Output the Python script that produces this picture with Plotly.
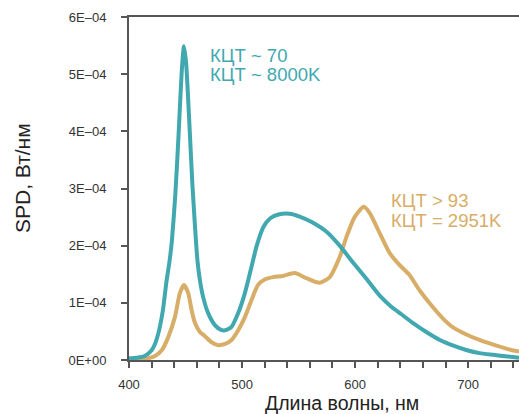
import plotly.graph_objects as go

# Teal: CRI ~ 70, CCT ~ 8000K  (values in 1E-04 W/nm)
wl_cool = [400, 407, 414, 420, 423, 426, 430, 433, 436, 438, 441, 444, 446.5, 448.6, 450.5, 453, 456, 458.5, 460.5, 462.7, 465.6, 470, 476, 481, 485, 490.7, 496.6, 502.5, 508, 513, 519, 525, 533, 542, 551, 562, 575, 586, 598, 610, 622, 631, 641, 651, 663, 675, 687, 699, 710, 722, 735, 745]
spd_cool = [0.03, 0.04, 0.07, 0.17, 0.28, 0.47, 0.87, 1.35, 1.75, 2.1, 2.9, 4.0, 5.0, 5.49, 5.2, 4.3, 3.1, 2.3, 1.75, 1.4, 1.1, 0.82, 0.61, 0.53, 0.52, 0.58, 0.82, 1.17, 1.6, 2.0, 2.33, 2.48, 2.55, 2.56, 2.51, 2.41, 2.24, 2.01, 1.71, 1.42, 1.12, 0.95, 0.8, 0.65, 0.49, 0.35, 0.25, 0.17, 0.12, 0.09, 0.06, 0.04]

# Tan: CRI > 93, CCT = 2951K  (values in 1E-04 W/nm)
wl_warm = [400, 414, 423, 429, 434.7, 440.6, 445, 448.6, 452.4, 455.4, 458.3, 462.7, 467, 473, 479, 485, 490.7, 496.6, 502.5, 508.4, 514, 520, 527.5, 536, 546.6, 557, 568.7, 577.6, 586.4, 592.3, 599.6, 607.6, 613, 621.7, 630.6, 639.4, 648, 657, 668.5, 678, 686, 698, 710, 725, 739, 745]
spd_warm = [0.0, 0.02, 0.07, 0.17, 0.4, 0.75, 1.17, 1.31, 1.17, 0.87, 0.65, 0.49, 0.42, 0.31, 0.26, 0.28, 0.35, 0.52, 0.75, 1.05, 1.31, 1.41, 1.45, 1.47, 1.52, 1.43, 1.35, 1.45, 1.8, 2.15, 2.5, 2.68, 2.57, 2.22, 1.87, 1.66, 1.49, 1.22, 0.93, 0.72, 0.58, 0.45, 0.35, 0.25, 0.17, 0.15]

y_tickvals = [0, 1e-4, 2e-4, 3e-4, 4e-4, 5e-4, 6e-4]
y_ticktext = ["0E+00", "1E\u201304", "2E\u201304", "3E\u201304", "4E\u201304", "5E\u201304", "6E\u201304"]
x_minor = [400, 420, 440, 460, 480, 500, 520, 540, 560, 580, 600, 620, 640, 660, 680, 700, 720, 740]
x_labeled = [400, 500, 600, 700]

labels_cool = ["КЦТ ~ 70", "КЦТ ~ 8000K"]
labels_warm = ["КЦТ > 93", "КЦТ = 2951K"]

TEAL = "#41a8b0"
TAN = "#d7ad67"

fig = go.Figure()
fig.add_trace(go.Scatter(x=wl_warm, y=[v * 1e-4 for v in spd_warm], mode="lines",
                         line=dict(color=TAN, width=4, shape="spline", smoothing=0.6),
                         showlegend=False, hoverinfo="skip"))
fig.add_trace(go.Scatter(x=wl_cool, y=[v * 1e-4 for v in spd_cool], mode="lines",
                         line=dict(color=TEAL, width=4, shape="spline", smoothing=0.6),
                         showlegend=False, hoverinfo="skip"))

font_family = "Liberation Sans, Arial, sans-serif"

fig.update_layout(
    width=519, height=414,
    margin=dict(l=129, r=0, t=17, b=54),
    paper_bgcolor="white", plot_bgcolor="white",
    font=dict(family=font_family, color="#333333"),
    xaxis=dict(range=[400, 745], showgrid=False, zeroline=False,
               showline=True, linecolor="#555555", linewidth=2, mirror=True,
               ticks="outside", ticklen=6, tickwidth=1.5, tickcolor="#555555",
               tickvals=x_minor,
               ticktext=[str(v) if v in x_labeled else "" for v in x_minor],
               tickfont=dict(size=13, color="#333333"), ticklabelstandoff=5),
    yaxis=dict(range=[0, 6e-4], showgrid=False, zeroline=False,
               showline=True, linecolor="#555555", linewidth=2,
               ticks="outside", ticklen=6, tickwidth=1.5, tickcolor="#555555",
               tickvals=y_tickvals, ticktext=y_ticktext,
               tickfont=dict(size=13, color="#333333"), ticklabelstandoff=12),
)

fig.add_annotation(xref="paper", yref="paper", x=(342 - 129) / 390, y=(360 - 403) / 343,
                   text="Длина волны, нм", showarrow=False, xanchor="center", yanchor="middle",
                   font=dict(size=19.5, color="#222222"))
fig.add_annotation(xref="paper", yref="paper", x=(22 - 129) / 390, y=(360 - 178) / 343,
                   text="SPD, Вт/нм", showarrow=False, textangle=-90, xanchor="center", yanchor="middle",
                   font=dict(size=21, color="#222222"))

fig.add_annotation(x=470, y=(360 - 55) / 343 * 6e-4, xref="x", yref="y", text=labels_cool[0],
                   showarrow=False, xanchor="left", yanchor="middle", font=dict(size=18.5, color=TEAL))
fig.add_annotation(x=470, y=(360 - 74) / 343 * 6e-4, xref="x", yref="y", text=labels_cool[1],
                   showarrow=False, xanchor="left", yanchor="middle", font=dict(size=18.5, color=TEAL))
fig.add_annotation(x=630, y=(360 - 200) / 343 * 6e-4, xref="x", yref="y", text=labels_warm[0],
                   showarrow=False, xanchor="left", yanchor="middle", font=dict(size=18.5, color=TAN))
fig.add_annotation(x=630, y=(360 - 220) / 343 * 6e-4, xref="x", yref="y", text=labels_warm[1],
                   showarrow=False, xanchor="left", yanchor="middle", font=dict(size=18.5, color=TAN))

fig.write_html("out.html")
